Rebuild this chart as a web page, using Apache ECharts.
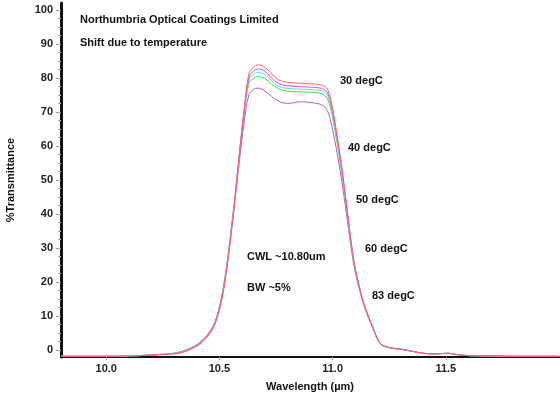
<!DOCTYPE html>
<html><head><meta charset="utf-8">
<script src="https://cdn.jsdelivr.net/npm/echarts@6/dist/echarts.min.js"></script>
<style>html,body{margin:0;padding:0;background:#fff}#c{width:560px;height:393px}</style>
</head><body><div id="c"></div>
<script>
const wavelength = [9.80, 9.90, 10.00, 10.10, 10.20, 10.25, 10.30, 10.34, 10.38, 10.41, 10.44, 10.47, 10.49, 10.51, 10.53, 10.55, 10.57, 10.59, 10.61, 10.63, 10.65, 10.67, 10.70, 10.73, 10.76, 10.80, 10.86, 10.92, 10.96, 10.98, 11.00, 11.02, 11.04, 11.06, 11.08, 11.10, 11.13, 11.15, 11.18, 11.21, 11.25, 11.30, 11.35, 11.40, 11.45, 11.51, 11.55, 11.60, 11.70, 11.80, 11.90, 12.00];
const t30 = [-1.8,-1.8,-1.8,-1.7,-1.4,-1.2,-1.0,-0.4,0.7,1.9,3.8,6.6,10.0,15.3,23.5,34.0,46.0,59.2,71.5,81.2,83.2,83.8,83.2,81.2,79.5,78.7,78.4,78.2,77.7,76.3,71.0,63.0,54.0,43.8,32.8,24.2,15.6,11.4,6.4,2.0,0.8,0.3,-0.3,-0.9,-1.1,-0.9,-1.3,-1.6,-1.7,-1.8,-1.8,-1.8];
const t40 = [-1.8,-1.8,-1.8,-1.7,-1.5,-1.3,-1.1,-0.6,0.5,1.6,3.4,6.1,9.4,14.5,22.6,33.1,45.2,58.4,70.6,80.0,82.0,82.6,82.0,80.0,78.4,77.7,77.4,77.2,76.7,75.2,70.0,62.2,53.3,43.2,32.4,23.9,15.4,11.3,6.3,2.0,0.8,0.3,-0.3,-0.9,-1.1,-0.9,-1.3,-1.6,-1.7,-1.8,-1.8,-1.8];
const t50 = [-1.8,-1.8,-1.8,-1.7,-1.4,-1.2,-0.9,-0.3,0.8,2.0,3.9,6.7,10.2,15.6,23.8,34.2,46.0,58.8,70.6,79.4,81.0,81.6,81.0,79.2,77.6,76.9,76.7,76.5,76.0,74.4,69.2,61.5,52.7,42.8,32.1,23.7,15.3,11.2,6.3,2.0,0.8,0.3,-0.3,-0.9,-1.1,-0.9,-1.3,-1.6,-1.7,-1.8,-1.8,-1.8];
const t60 = [-1.8,-1.8,-1.8,-1.7,-1.4,-1.2,-0.9,-0.2,0.9,2.1,4.0,6.9,10.4,15.8,24.0,34.4,46.1,58.6,70.0,78.4,79.8,80.4,79.8,78.2,76.8,76.1,75.9,75.7,75.1,73.4,68.2,60.7,52.0,42.3,31.8,23.5,15.2,11.1,6.2,2.0,0.8,0.3,-0.3,-0.9,-1.1,-0.9,-1.3,-1.6,-1.7,-1.8,-1.8,-1.8];
const t83 = [-1.8,-1.8,-1.8,-1.7,-1.4,-1.2,-0.9,-0.3,0.8,2.0,3.9,6.7,10.1,15.3,23.2,33.4,44.8,56.6,67.4,75.0,76.6,77.0,76.2,74.6,73.2,72.5,73.0,72.6,71.8,69.8,64.8,57.8,49.8,40.6,30.8,22.9,14.9,10.9,6.1,1.9,0.7,0.3,-0.3,-0.9,-1.1,-0.9,-1.3,-1.6,-1.7,-1.8,-1.8,-1.8];
const xTicks = [10.0, 10.5, 11.0, 11.5];
const yTicks = [0, 10, 20, 30, 40, 50, 60, 70, 80, 90, 100];
const seriesNames = ['83 degC', '60 degC', '50 degC', '40 degC', '30 degC'];
const titleLines = ['Northumbria Optical Coatings Limited', 'Shift due to temperature'];
const noteLines = ['CWL ~10.80um', 'BW ~5%'];

const seriesData = [t83, t60, t50, t40, t30];
const colors = ['#b85ccc', '#3ce03c', '#44e6ee', '#ff44ee', '#ff6464'];
const yMinor = [];
yTicks.forEach(v => { [0, 2.5, 5, 7.5].forEach(d => { if (v + d <= 100) yMinor.push(v + d); }); });

const FONT = '"Liberation Sans", Arial, sans-serif';
const chart = echarts.init(document.getElementById('c'), null, {renderer: 'canvas'});
const txt = (t, x, y) => ({type: 'text', x: x, y: y, style: {text: t, fill: '#111', font: 'bold 11px ' + FONT, verticalAlign: 'middle'}});
chart.setOption({
  animation: false,
  backgroundColor: '#fff',
  grid: {left: 61, right: 1, top: 3, bottom: 36, containLabel: false, outerBoundsMode: 'none'},
  xAxis: {
    type: 'value', min: 9.8, max: 12.0,
    name: 'Wavelength (µm)', nameLocation: 'middle', nameGap: 24,
    nameTextStyle: {fontFamily: FONT, fontWeight: 'bold', fontSize: 11, color: '#111'},
    axisLine: {onZero: false, lineStyle: {color: '#111', width: 2}},
    axisTick: {show: true, customValues: xTicks, length: 3, lineStyle: {color: '#999'}},
    axisLabel: {customValues: xTicks, formatter: v => v.toFixed(1), fontFamily: FONT, fontWeight: 'bold', fontSize: 11, color: '#222', margin: 6},
    splitLine: {show: false}
  },
  yAxis: [{
    type: 'value', min: -2, max: 102,
    name: '%Transmittance', nameLocation: 'middle', nameGap: 45, nameRotate: 90,
    nameTextStyle: {fontFamily: FONT, fontWeight: 'bold', fontSize: 11, color: '#111'},
    axisLine: {show: true, onZero: false, lineStyle: {color: '#111', width: 3}},
    axisTick: {show: true, customValues: yTicks, length: 5, lineStyle: {color: '#999'}},
    axisLabel: {customValues: yTicks, fontFamily: FONT, fontWeight: 'bold', fontSize: 11, color: '#222', margin: 8},
    splitLine: {show: false}
  }, {
    type: 'value', min: -2, max: 102, position: 'left',
    axisLine: {show: false},
    axisTick: {show: true, customValues: yMinor, length: 3, lineStyle: {color: '#aaa'}},
    axisLabel: {show: false},
    splitLine: {show: false}
  }],
  series: seriesData.map((d, i) => ({
    type: 'line', name: seriesNames[i], yAxisIndex: 0,
    data: wavelength.map((w, j) => [w, d[j]]),
    smooth: 0.35, showSymbol: false, symbol: 'none',
    lineStyle: {color: colors[i], width: 1},
    z: 2 + i
  })),
  graphic: [
    txt(titleLines[0], 80, 20),
    txt(titleLines[1], 80, 43),
    txt(seriesNames[4], 340, 81),
    txt(seriesNames[3], 348, 148),
    txt(seriesNames[2], 356, 200),
    txt(seriesNames[1], 365, 249),
    txt(seriesNames[0], 372, 296),
    txt(noteLines[0], 247, 257),
    txt(noteLines[1], 247, 288)
  ]
});
</script></body></html>
